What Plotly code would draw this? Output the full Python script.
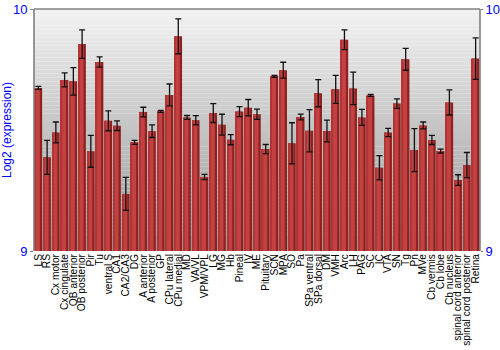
import plotly.graph_objects as go

regions = ["LS", "RS", "Cx motor", "Cx cingulate", "OB anterior", "OB posterior", "Pir", "Tu",
           "ventral S", "CA1", "CA2/CA3", "DG", "A anterior", "A posterior", "GP", "CPu lateral",
           "CPu medial", "MD", "VA/VL", "VPM/VPL", "LG", "MG", "Hb", "Pineal", "IV", "ME",
           "Pituitary", "SCN", "MPA", "SO", "Pa", "SPa ventral", "SPa dorsal", "DM", "VMH", "Arc",
           "LH", "PAG", "SC", "IC", "VTA", "SN", "Tg", "Pn", "MVe", "Cb vermis", "Cb lobe",
           "Cb nucleus", "spinal cord anterior", "spinal cord posterior", "Retina"]

expression = [9.674, 9.387, 9.490, 9.707, 9.701, 9.855, 9.412, 9.781,
              9.538, 9.518, 9.236, 9.449, 9.574, 9.495, 9.577, 9.645,
              9.887, 9.552, 9.540, 9.306, 9.570, 9.522, 9.460, 9.576, 9.592, 9.565,
              9.421, 9.722, 9.747, 9.445, 9.554, 9.497, 9.652, 9.496, 9.668, 9.873,
              9.672, 9.552, 9.643, 9.344, 9.490, 9.609, 9.792, 9.417, 9.519, 9.459, 9.413,
              9.614, 9.293, 9.355, 9.795]

errors = [0.006, 0.070, 0.043, 0.029, 0.057, 0.059, 0.066, 0.021,
          0.041, 0.020, 0.068, 0.008, 0.020, 0.026, 0.004, 0.045,
          0.072, 0.008, 0.019, 0.011, 0.039, 0.043, 0.021, 0.021, 0.034, 0.021,
          0.019, 0.004, 0.033, 0.085, 0.012, 0.087, 0.056, 0.045, 0.058, 0.041,
          0.067, 0.033, 0.004, 0.050, 0.017, 0.020, 0.045, 0.089, 0.014, 0.019, 0.008,
          0.052, 0.022, 0.052, 0.086]

y_range = [9, 10]
y_ticks = [9, 10]

fig = go.Figure()

# bar body (dark edges)
fig.add_trace(go.Bar(
    x=regions, y=expression, base=0, width=0.86,
    marker=dict(color="#8f2121", line=dict(width=0)),
    hoverinfo="skip", showlegend=False,
))
# lighter middle band
fig.add_trace(go.Bar(
    x=regions, y=expression, base=0, width=0.5, offset=-0.33,
    marker=dict(color="#c44141", line=dict(width=0)),
    hoverinfo="skip", showlegend=False,
))
# left thin highlight
fig.add_trace(go.Bar(
    x=regions, y=expression, base=0, width=0.14, offset=-0.43,
    marker=dict(color="#b33434", line=dict(width=0)),
    hoverinfo="skip", showlegend=False,
))
# error bars on a transparent centered bar
fig.add_trace(go.Bar(
    x=regions, y=expression, base=0, width=0.86,
    marker=dict(color="rgba(0,0,0,0)", line=dict(width=0)),
    error_y=dict(type="data", array=errors, visible=True, color="#111111",
                 thickness=1.3, width=3),
    showlegend=False,
))
# invisible trace for the right axis
fig.add_trace(go.Scatter(x=[regions[0]], y=[y_range[0]], yaxis="y2",
                         mode="markers", marker=dict(opacity=0), showlegend=False,
                         hoverinfo="skip"))

# vertical gray gradient background
n = 60
shapes = []
for i in range(n):
    t = i / (n - 1)
    top = (242, 242, 242)
    bot = (150, 150, 150)
    c = tuple(int(round(top[k] + (bot[k] - top[k]) * t)) for k in range(3))
    shapes.append(dict(type="rect", xref="paper", yref="paper",
                       x0=0, x1=1, y0=1 - (i + 1) / n, y1=1 - i / n,
                       fillcolor="rgb(%d,%d,%d)" % c, line=dict(width=0),
                       layer="below"))
for line in [dict(x0=0, x1=0, y0=0, y1=1), dict(x0=1, x1=1, y0=0, y1=1),
             dict(x0=0, x1=1, y0=1, y1=1)]:
    shapes.append(dict(type="line", xref="paper", yref="paper",
                       line=dict(color="#7f7f7f", width=1.6), layer="above", **line))

fig.update_layout(
    width=500, height=350,
    margin=dict(l=34, r=20, t=9, b=99, autoexpand=False),
    paper_bgcolor="white", plot_bgcolor="rgba(0,0,0,0)",
    barmode="overlay",
    shapes=shapes,
    font=dict(family="Liberation Sans, Arial, sans-serif"),
    xaxis=dict(tickangle=-90, tickfont=dict(size=10.2, color="black"),
               tickmode="linear", dtick=1, automargin=False,
               showgrid=False, zeroline=False, ticks="", showline=False,
               range=[-0.5, len(regions) - 0.5]),
    yaxis=dict(range=y_range, tickvals=y_ticks, ticktext=[str(v) for v in y_ticks],
               tickfont=dict(size=13, color="blue"), showgrid=False, zeroline=False,
               ticks="outside", ticklen=3, tickcolor="#7f7f7f", automargin=False,
               title=dict(text="Log2 (expression)", font=dict(size=12, color="blue"),
                          standoff=4)),
    yaxis2=dict(range=y_range, tickvals=y_ticks, ticktext=[str(v) for v in y_ticks],
                overlaying="y", side="right", tickfont=dict(size=13, color="blue"),
                showgrid=False, zeroline=False, ticks="outside", ticklen=2,
                tickcolor="#7f7f7f", automargin=False),
)

fig.write_html("out.html")
